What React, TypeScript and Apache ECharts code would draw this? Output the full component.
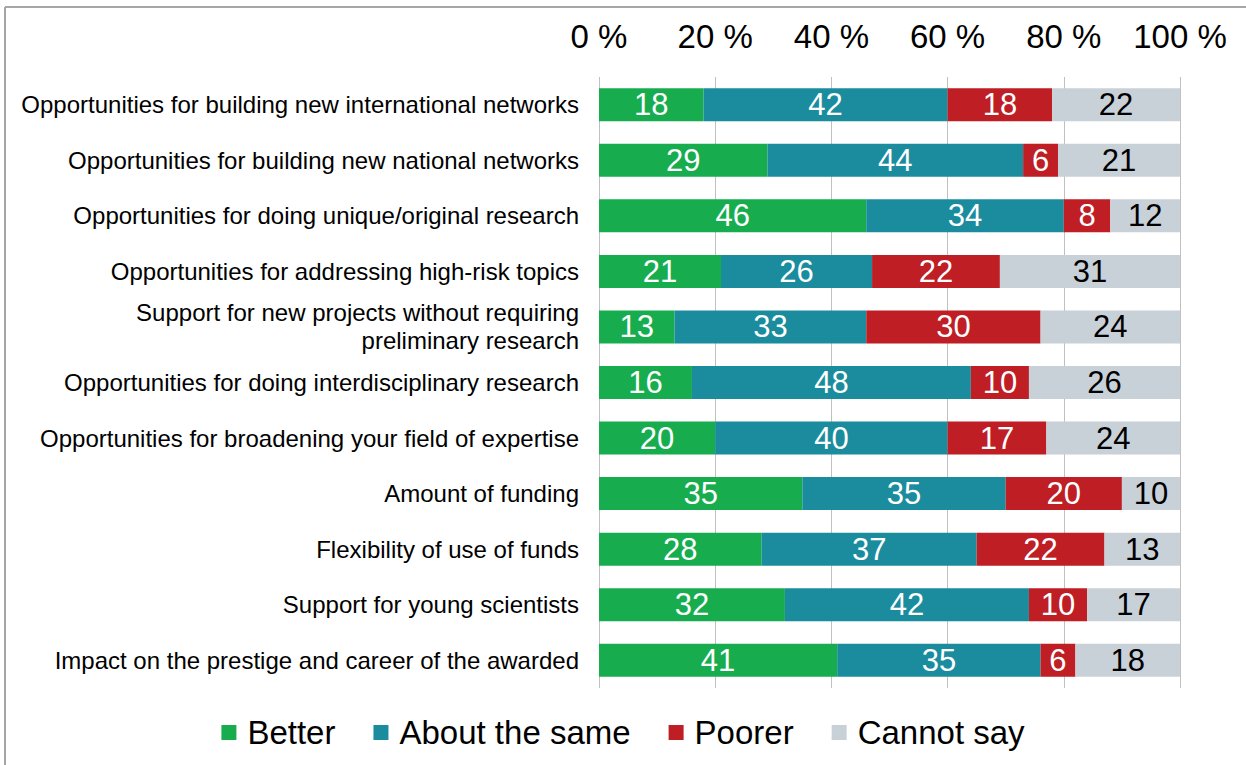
import React, { useEffect, useRef } from "react";
import * as echarts from "echarts";

const categories = [
  "Opportunities for building new international networks",
  "Opportunities for building new national networks",
  "Opportunities for doing unique/original research",
  "Opportunities for addressing high-risk topics",
  "Support for new projects without requiring\npreliminary research",
  "Opportunities for doing interdisciplinary research",
  "Opportunities for broadening your field of expertise",
  "Amount of funding",
  "Flexibility of use of funds",
  "Support for young scientists",
  "Impact on the prestige and career of the awarded",
];
const better = [18, 29, 46, 21, 13, 16, 20, 35, 28, 32, 41];
const aboutSame = [42, 44, 34, 26, 33, 48, 40, 35, 37, 42, 35];
const poorer = [18, 6, 8, 22, 30, 10, 17, 20, 22, 10, 6];
const cannotSay = [22, 21, 12, 31, 24, 26, 24, 10, 13, 17, 18];
const tickValues = [0, 20, 40, 60, 80, 100];

const FONT = "'Liberation Sans', Arial, sans-serif";

export default function App() {
  const ref = useRef<HTMLDivElement>(null);
  useEffect(() => {
    document.body.style.margin = "0";
    const chart = echarts.init(ref.current!, null, { renderer: "svg" });
    const mk = (name: string, data: number[], color: string, labelColor: string) => ({
      name,
      type: "bar",
      stack: "total",
      data,
      barWidth: 33,
      itemStyle: { color },
      label: {
        show: true,
        position: "inside",
        color: labelColor,
        fontSize: 31,
        fontFamily: FONT,
      },
    });
    chart.setOption({
      animation: false,
      textStyle: { fontFamily: FONT },
      graphic: [
        { type: "line", shape: { x1: 5, y1: 7, x2: 1246, y2: 7 }, style: { stroke: "#a6a6a6", lineWidth: 2 } },
        { type: "line", shape: { x1: 5, y1: 7, x2: 5, y2: 765 }, style: { stroke: "#a6a6a6", lineWidth: 2 } },
      ],
      grid: { left: 599, right: 66, top: 77, bottom: 77, containLabel: false },
      legend: {
        bottom: 11,
        left: "center",
        itemWidth: 15,
        itemHeight: 15,
        itemGap: 38,
        icon: "rect",
        textStyle: { fontSize: 33, color: "#000", fontFamily: FONT, padding: [0, 0, 0, 6] },
        data: ["Better", "About the same", "Poorer", "Cannot say"],
      },
      xAxis: {
        type: "value",
        position: "top",
        min: tickValues[0],
        max: tickValues[tickValues.length - 1],
        interval: 20,
        axisLine: { show: false },
        axisTick: { show: false },
        splitLine: { show: true, lineStyle: { color: "#c0c0c0", width: 1 } },
        axisLabel: {
          formatter: "{value} %",
          fontSize: 33,
          color: "#000",
          margin: 24,
          fontFamily: FONT,
        },
      },
      yAxis: {
        type: "category",
        inverse: true,
        data: categories,
        axisLine: { show: false },
        axisTick: { show: false },
        axisLabel: {
          fontSize: 24,
          color: "#000",
          margin: 20,
          lineHeight: 28,
          fontFamily: FONT,
        },
      },
      series: [
        mk("Better", better, "#17ad4f", "#fff"),
        mk("About the same", aboutSame, "#1a8c9e", "#fff"),
        mk("Poorer", poorer, "#be1e24", "#fff"),
        mk("Cannot say", cannotSay, "#c8d0d8", "#000"),
      ],
    });
    return () => chart.dispose();
  }, []);
  return <div ref={ref} style={{ width: 1246, height: 765 }} />;
}
